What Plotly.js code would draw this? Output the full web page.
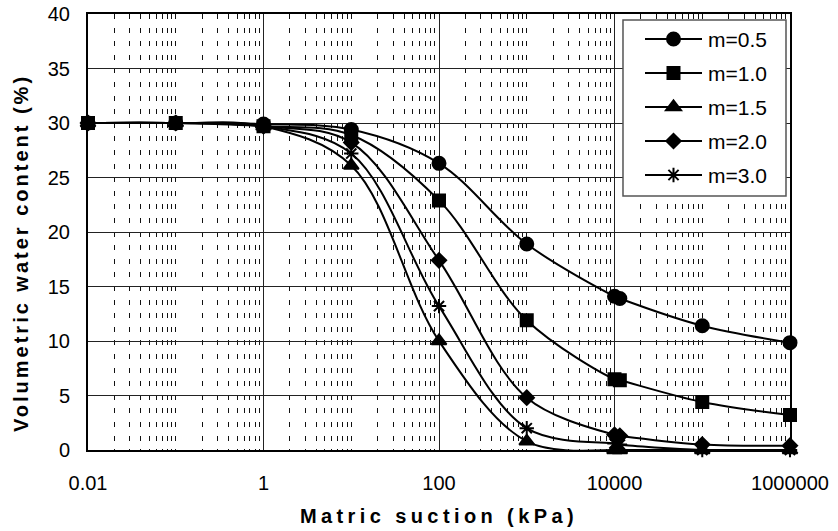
<!DOCTYPE html>
<html><head><meta charset="utf-8">
<script src="https://cdn.plot.ly/plotly-3.0.1.min.js"></script>
<style>html,body{margin:0;padding:0;background:#fff}#chart{width:838px;height:531px}</style>
</head><body><div id="chart"></div>
<script>
// Matric suction (kPa)
const suction = [0.01, 0.1, 1, 10, 100, 1000, 10000, 11500, 100000, 1000000];
// Volumetric water content (%) for each m
const m05 = [30.0, 30.0, 29.9, 29.4, 26.3, 18.9, 14.1, 13.9, 11.4, 9.85];
const m10 = [30.0, 30.0, 29.7, 28.9, 22.9, 11.9, 6.5, 6.4, 4.4, 3.2];
const m15 = [30.0, 30.0, 29.7, 26.1, 10.0, 0.8, 0.0, 0.0, 0.0, 0.0];
const m20 = [30.0, 30.0, 29.7, 28.2, 17.4, 4.8, 1.4, 1.3, 0.5, 0.4];
const m30 = [30.0, 30.0, 29.7, 27.2, 13.2, 2.0, 0.6, 0.5, 0.0, 0.0];
const seriesNames = ['m=0.5', 'm=1.0', 'm=1.5', 'm=2.0', 'm=3.0'];
const xTickVals = [0.01, 1, 100, 10000, 1000000];
const xTickText = ['0.01', '1', '100', '10000', '1000000'];

const seriesData = [m05, m10, m15, m20, m30];
const symbols = ['circle', 'square', 'triangle-up', 'diamond', 'asterisk-open'];
const sizes = [13, 12, 13, 11, 12];

const traces = seriesData.map((ys, i) => ({
  x: suction, y: ys, name: seriesNames[i], type: 'scatter', mode: 'lines+markers',
  legendgroup: 'g' + i, cliponaxis: false,
  line: {color: '#000', width: 2, shape: 'spline', smoothing: 1},
  marker: {symbol: symbols[i], size: sizes[i], color: '#000', line: {color: '#000', width: 2}}
}));

// minor (dashed) grid positions: 2..9 x 10^k and odd decades
const minorVals = [];
for (let k = -2; k <= 5; k++) {
  if (k % 2 !== 0) minorVals.push(Math.pow(10, k));
  for (let d = 2; d <= 9; d++) minorVals.push(d * Math.pow(10, k));
}

const font = 'Arial, "Liberation Sans", sans-serif';
const layout = {
  width: 838, height: 531,
  margin: {l: 88, r: 48, t: 14, b: 81},
  paper_bgcolor: '#fff', plot_bgcolor: '#fff',
  font: {family: font, color: '#000', size: 20},
  showlegend: true,
  legend: {x: 0.786, y: 0.9817, xanchor: 'left', yanchor: 'top', bgcolor: 'rgba(0,0,0,0)',
    borderwidth: 0, font: {family: font, size: 21, color: '#000'},
    traceorder: 'grouped', tracegroupgap: 5},
  shapes: [{type: 'rect', xref: 'paper', yref: 'paper', layer: 'above',
    x0: 0.7621, x1: 0.9943, y0: 0.5826, y1: 0.9862,
    fillcolor: '#fff', line: {color: '#555', width: 1.5}}],
  xaxis: {
    type: 'log', range: [-2, 6], tickmode: 'array', tickvals: xTickVals, ticktext: xTickText,
    showgrid: true, gridcolor: '#222', gridwidth: 1,
    showline: true, linecolor: '#000', linewidth: 2, mirror: true, zeroline: false,
    ticks: '', ticklabelstandoff: 14, tickfont: {size: 20, family: font},
    minor: {tickmode: 'array', tickvals: minorVals, showgrid: true, gridcolor: '#111',
      gridwidth: 1, griddash: '5px,8.6px', ticks: ''},
    title: {text: 'Matric suction (kPa)', font: {size: 20, family: font, weight: 'bold'}, standoff: 16},
    automargin: false
  },
  yaxis: {
    range: [0, 40], dtick: 5, tick0: 0,
    showgrid: true, gridcolor: '#222', gridwidth: 1,
    showline: true, linecolor: '#000', linewidth: 2, mirror: true, zeroline: false,
    ticks: '', ticklabelstandoff: 12, tickfont: {size: 20, family: font},
    title: {text: 'Volumetric water content (%)', font: {size: 20, family: font, weight: 'bold'}, standoff: 14},
    automargin: false
  }
};

Plotly.newPlot('chart', traces, layout, {displayModeBar: false, staticPlot: true}).then(function (gd) {
  const xt = gd.querySelector('.xtitle');
  if (xt) xt.style.letterSpacing = '4.4px';
  const yt = gd.querySelector('.ytitle');
  if (yt) {
    yt.style.letterSpacing = '3px';
    const x = parseFloat(yt.getAttribute('x'));
    const y = parseFloat(yt.getAttribute('y')) + 21;
    yt.setAttribute('y', y);
    yt.setAttribute('transform', 'rotate(-90,' + x + ',' + y + ')');
  }
  // legend entry layout: long line sample, centred marker, text after it
  gd.querySelectorAll('.legend [clip-path], .legend').forEach(function (el) {
    el.removeAttribute('clip-path');
  });
  const items = gd.querySelectorAll('.legend g.traces');
  items.forEach(function (g, i) {
    const tr = (g.getAttribute('transform') || '').match(/translate\(\s*([-\d.e]+)[ ,]+([-\d.e]+)\s*\)/);
    let tx = tr ? parseFloat(tr[1]) : 0, ty = tr ? parseFloat(tr[2]) : 0;
    const m0 = g.getCTM();
    ty += (39 + 34 * i) - m0.f;
    g.setAttribute('transform', 'translate(' + tx + ',' + ty + ')');
    const e = g.getCTM().e;
    const line = g.querySelector('path.js-line');
    if (line) line.setAttribute('d', 'M' + (645 - e) + ',0h57');
    g.querySelectorAll('g.legendpoints path.scatterpts').forEach(function (p) {
      p.setAttribute('transform', 'translate(' + (673.5 - e) + ',0)');
    });
    const t = g.querySelector('text.legendtext');
    if (t) t.setAttribute('x', 708 - e);
  });
});
</script>
</body></html>
